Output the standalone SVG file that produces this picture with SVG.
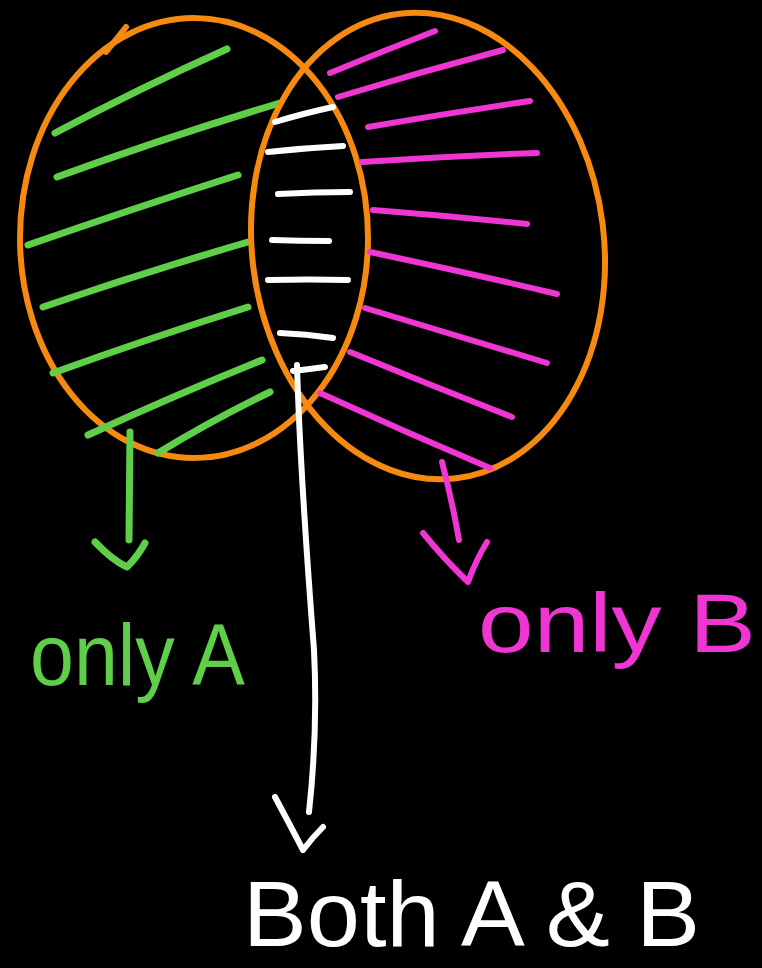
<svg xmlns="http://www.w3.org/2000/svg" width="762" height="968" viewBox="0 0 762 968">
<style>
.o{fill:none;stroke:#f68a10;stroke-width:6;stroke-linecap:round}
.g{fill:none;stroke:#5fcf49;stroke-width:7;stroke-linecap:round;stroke-linejoin:round}
.m{fill:none;stroke:#ef36d3;stroke-width:6;stroke-linecap:round;stroke-linejoin:round}
.w{fill:none;stroke:#ffffff;stroke-width:6;stroke-linecap:round;stroke-linejoin:round}
.t{font-family:"Liberation Sans",Arial,sans-serif}
</style>
<rect width="762" height="968" fill="#000"/>
<g id="setA">
<ellipse class="o" cx="194" cy="238" rx="174" ry="220"/>
<path class="o" d="M106 52 L126 27"/>
<path class="g" d="M55 133 Q140 88 227 49"/>
<path class="g" d="M57 177 Q170 136 280 103"/>
<path class="g" d="M28 245 Q135 208 238 175"/>
<path class="g" d="M43 307 Q145 272 248 242"/>
<path class="g" d="M53 373 Q150 338 248 307"/>
<path class="g" d="M88 435 Q175 395 262 360"/>
<path class="g" d="M158 453 Q212 420 270 392"/>
</g>
<g id="setB">
<ellipse class="o" cx="428" cy="246" rx="176" ry="234" transform="rotate(-7 428 246)"/>
<path class="m" d="M330 73 Q383 51 435 31"/>
<path class="m" d="M338 97 Q420 72 503 50"/>
<path class="m" d="M368 127 Q450 113 530 101"/>
<path class="m" d="M362 162 Q450 156 537 153"/>
<path class="m" d="M373 210 Q450 216 527 224"/>
<path class="m" d="M370 252 Q465 272 557 294"/>
<path class="m" d="M365 308 Q455 335 547 363"/>
<path class="m" d="M350 352 Q430 385 512 417"/>
<path class="m" d="M320 393 Q405 432 490 468"/>
</g>
<g id="intersection">
<path class="w" d="M275 122 Q305 113 333 107"/>
<path class="w" d="M268 152 Q305 148 343 146"/>
<path class="w" d="M278 194 Q315 192 350 192"/>
<path class="w" d="M272 240 Q300 241 329 241"/>
<path class="w" d="M268 280 Q310 279 348 280"/>
<path class="w" d="M280 333 Q306 334 333 338"/>
<path class="w" d="M293 371 Q310 369 325 367"/>
</g>
<g id="connectors">
<path class="g" d="M130 432 L129 540"/>
<path class="g" d="M95 542 Q112 560 127 567 Q138 556 145 543"/>
<path class="m" d="M442 462 Q452 500 459 540"/>
<path class="m" d="M423 533 Q445 560 468 582 Q476 560 487 542"/>
<path class="w" d="M297 365 Q300 470 314 650 Q318 730 309 812"/>
<path class="w" d="M275 797 Q290 825 303 850 Q312 838 323 827"/>
</g>
<g id="labelA">
<text class="t" x="30" y="685" font-size="88" fill="#5fcf49" textLength="215" lengthAdjust="spacingAndGlyphs">only A</text>
</g>
<g id="labelB">
<text class="t" x="478" y="652" font-size="84" fill="#ef36d3" textLength="278" lengthAdjust="spacingAndGlyphs">only B</text>
</g>
<g id="labelBoth">
<text class="t" x="243" y="946" font-size="92" fill="#ffffff" textLength="457" lengthAdjust="spacingAndGlyphs">Both A &amp; B</text>
</g>
</svg>
